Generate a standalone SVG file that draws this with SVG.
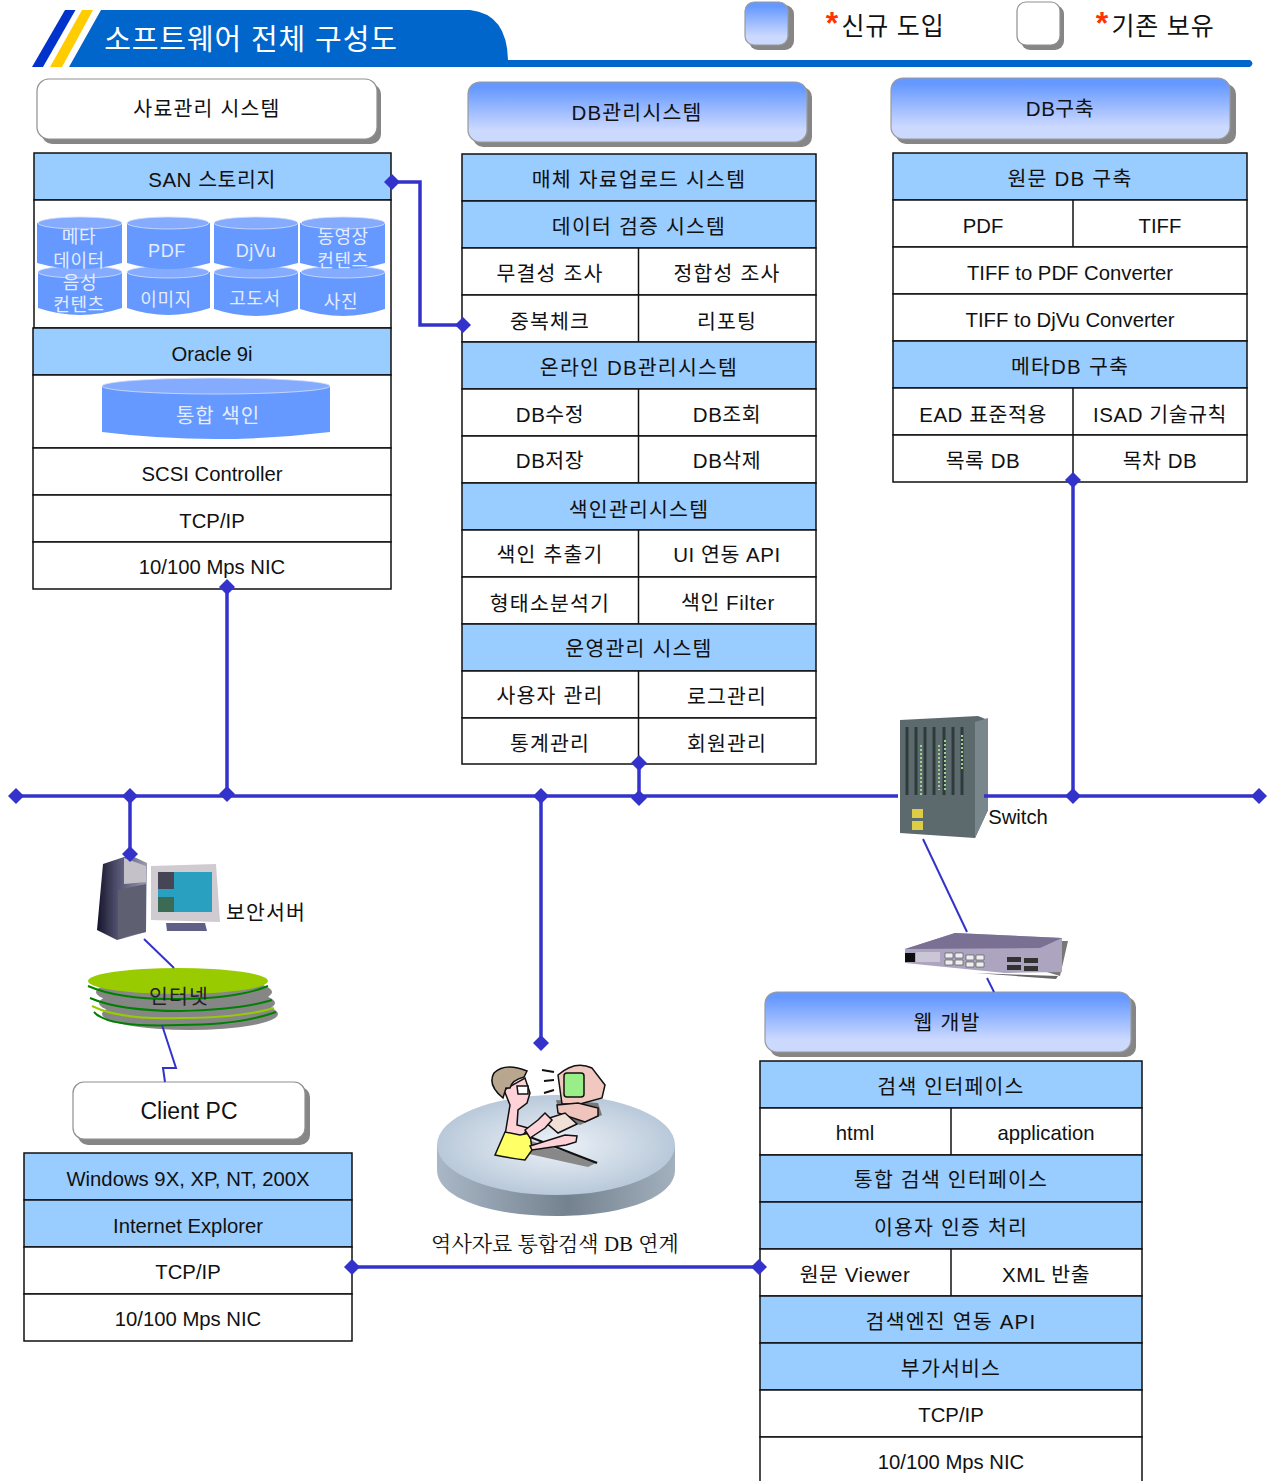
<svg xmlns="http://www.w3.org/2000/svg" width="1271" height="1481" viewBox="0 0 1271 1481">
<style>
text{font-family:"Liberation Sans","Noto Sans CJK KR",sans-serif;font-size:20.3px;fill:#111;text-anchor:middle}
text.k{font-size:20.5px;letter-spacing:1.2px;transform:translateY(1.2px)}
text.m{font-size:20.5px;letter-spacing:.55px;transform:translateY(.8px)}
.b{fill:#99ccff;stroke:#111;stroke-width:1.5}
.w{fill:#fff;stroke:#111;stroke-width:1.5}
.s{fill:#868686}
.nb{fill:url(#ng);stroke:#9a9a9a;stroke-width:1.2}
.ob{fill:#fff;stroke:#8f8f8f;stroke-width:1.2}
.c{fill:none;stroke:#3333cc;stroke-width:3.5}
.t{fill:none;stroke:#3333cc;stroke-width:2}
.d{fill:#3333cc}
.cb{fill:#6699ff}
.ct{fill:#85abff;stroke:#d5e0f5;stroke-width:.8}
text.cl{fill:#e4ecff;font-size:18px;letter-spacing:.6px}
.o{stroke:#111;stroke-width:1.5}
</style>
<defs>
<linearGradient id="ng" x1="0" y1="0" x2="0" y2="1"><stop offset="0.1" stop-color="#6699ff"/><stop offset="0.8" stop-color="#ccd9ff"/></linearGradient>
<linearGradient id="disc" x1="0" y1="0" x2="1" y2="0"><stop offset="0" stop-color="#a9b7c6"/><stop offset="0.55" stop-color="#748290"/><stop offset="1" stop-color="#a3b0bd"/></linearGradient>
<radialGradient id="disct"><stop offset="0" stop-color="#edf2f8"/><stop offset="1" stop-color="#b9c9da"/></radialGradient>
<linearGradient id="tower" x1="0" y1="0" x2="1" y2="0"><stop offset="0" stop-color="#15152c"/><stop offset="0.4" stop-color="#50506e"/><stop offset="1" stop-color="#9a9ab0"/></linearGradient>
<filter id="soft"><feGaussianBlur stdDeviation="0.6"/></filter>
<path id="dm" class="d" d="M0-8L8 0L0 8L-8 0Z"/>
</defs>

<g id="title">
<path d="M69 67L101 10H470Q507 14 508 60H1250Q1255 63.500 1250 67Z" fill="#0066cc"/>
<path d="M32 67L65 10H75.500L43 67Z" fill="#0033cc"/>
<path d="M50 67L82 10H93L62 67Z" fill="#ffcc00"/>
<text x="251" y="50" style="font-size:29px;letter-spacing:.9px;fill:#fff">소프트웨어 전체 구성도</text>
</g>

<g id="legend">
<rect class="s" x="749" y="5" width="45" height="45" rx="9"/>
<rect class="nb" x="745" y="2" width="43" height="43" rx="9"/>
<text x="832" y="34" style="font-size:32px;font-weight:bold;fill:#ff3300">*</text>
<text x="893" y="35" style="font-size:25px;letter-spacing:.8px">신규 도입</text>
<rect class="s" x="1021" y="5" width="43" height="45" rx="9"/>
<rect class="ob" x="1017" y="2" width="43" height="43" rx="9"/>
<text x="1102" y="34" style="font-size:32px;font-weight:bold;fill:#ff3300">*</text>
<text x="1163" y="35" style="font-size:25px;letter-spacing:.8px">기존 보유</text>
</g>

<g id="head-saryo">
<rect class="s" x="42" y="84" width="339" height="60" rx="10"/>
<rect class="ob" x="37" y="79" width="340" height="60" rx="12"/>
<text class="k" x="207" y="115">사료관리 시스템</text>
</g>
<g id="head-dbm">
<rect class="s" x="473" y="87" width="339" height="60" rx="10"/>
<rect class="nb" x="468" y="82" width="339" height="60" rx="12"/>
<text class="k" x="637" y="119">DB관리시스템</text>
</g>
<g id="head-dbb">
<rect class="s" x="896" y="84" width="340" height="60" rx="10"/>
<rect class="nb" x="891" y="78" width="339" height="61" rx="12"/>
<text class="m" x="1060" y="115">DB구축</text>
</g>

<g id="san-table">
<rect class="b" x="34" y="153" width="357" height="47"/><text class="m" x="212" y="186">SAN 스토리지</text>
<rect class="w" x="34" y="200" width="357" height="128"/>
<rect class="b" x="33" y="328" width="358" height="47"/><text x="212" y="361">Oracle 9i</text>
<rect class="w" x="33" y="375" width="358" height="73"/>
<rect class="w" x="33" y="448" width="358" height="47"/><text x="212" y="481">SCSI Controller</text>
<rect class="w" x="33" y="495" width="358" height="47"/><text x="212" y="528">TCP/IP</text>
<rect class="w" x="33" y="542" width="358" height="47"/><text x="212" y="574">10/100 Mps NIC</text>
</g>
<g id="storage">
<path class="cb" d="M38 272V308Q80 322 122 308V272Z"/><ellipse class="ct" cx="80" cy="272" rx="42" ry="6"/>
<path class="cb" d="M127 272V308Q168 322 210 308V272Z"/><ellipse class="ct" cx="168" cy="272" rx="41" ry="6"/>
<path class="cb" d="M214 272V309Q256 323 298 309V272Z"/><ellipse class="ct" cx="256" cy="272" rx="42" ry="6"/>
<path class="cb" d="M300 272V309Q343 323 385 309V272Z"/><ellipse class="ct" cx="343" cy="272" rx="42" ry="6"/>
<path class="cb" d="M37 223V263Q80 275 122 263V223Z"/><ellipse class="ct" cx="80" cy="223" rx="42" ry="6"/>
<path class="cb" d="M127 223V263Q168 275 210 263V223Z"/><ellipse class="ct" cx="168" cy="223" rx="41" ry="6"/>
<path class="cb" d="M214 223V263Q256 275 298 263V223Z"/><ellipse class="ct" cx="256" cy="223" rx="42" ry="6"/>
<path class="cb" d="M300 223V263Q343 275 385 263V223Z"/><ellipse class="ct" cx="343" cy="223" rx="42" ry="6"/>
<text class="cl" x="79" y="243">메타</text><text class="cl" x="79" y="267">데이터</text>
<text class="cl" x="167" y="257">PDF</text><text class="cl" x="256" y="257">DjVu</text>
<text class="cl" x="343" y="243">동영상</text><text class="cl" x="343" y="267">컨텐츠</text>
<text class="cl" x="80" y="289">음성</text><text class="cl" x="79" y="311">컨텐츠</text>
<text class="cl" x="166" y="306">이미지</text><text class="cl" x="255" y="305">고도서</text><text class="cl" x="341" y="308">사진</text>
<path class="cb" d="M102 386V432Q216 446 330 432V386Z"/><ellipse class="ct" cx="216" cy="386" rx="114" ry="8"/>
<text class="cl" x="218" y="423" style="font-size:20px;letter-spacing:1px">통합 색인</text>
</g>

<g id="dbm-table">
<rect class="b" x="462" y="154" width="354" height="47"/><text class="k" x="639" y="186">매체 자료업로드 시스템</text>
<rect class="b" x="462" y="201" width="354" height="47"/><text class="k" x="639" y="233">데이터 검증 시스템</text>
<rect class="w" x="462" y="248" width="354" height="47"/><rect class="w" x="462" y="295" width="354" height="47"/><path class="w" d="M638.500 248V342"/>
<text class="k" x="550" y="280">무결성 조사</text><text class="k" x="727" y="280">정합성 조사</text><text class="k" x="550" y="328">중복체크</text><text class="k" x="727" y="328">리포팅</text>
<rect class="b" x="462" y="342" width="354" height="47"/><text class="k" x="639" y="374">온라인 DB관리시스템</text>
<rect class="w" x="462" y="389" width="354" height="47"/><rect class="w" x="462" y="436" width="354" height="47"/><path class="w" d="M638.500 389V483"/>
<text class="m" x="550" y="421">DB수정</text><text class="m" x="727" y="421">DB조회</text><text class="m" x="550" y="467">DB저장</text><text class="m" x="727" y="467">DB삭제</text>
<rect class="b" x="462" y="483" width="354" height="47"/><text class="k" x="639" y="516">색인관리시스템</text>
<rect class="w" x="462" y="530" width="354" height="47"/><rect class="w" x="462" y="577" width="354" height="47"/><path class="w" d="M638.500 530V624"/>
<text class="k" x="550" y="561">색인 추출기</text><text class="m" x="727" y="561">UI 연동 API</text><text class="k" x="550" y="610">형태소분석기</text><text class="m" x="728" y="609">색인 Filter</text>
<rect class="b" x="462" y="624" width="354" height="47"/><text class="k" x="639" y="655">운영관리 시스템</text>
<rect class="w" x="462" y="671" width="354" height="47"/><rect class="w" x="462" y="718" width="354" height="46"/><path class="w" d="M638.500 671V764"/>
<text class="k" x="550" y="702">사용자 관리</text><text class="k" x="727" y="703">로그관리</text><text class="k" x="550" y="750">통계관리</text><text class="k" x="727" y="750">회원관리</text>
</g>

<g id="dbb-table">
<rect class="b" x="893" y="153" width="354" height="47"/><text class="k" x="1070" y="185">원문 DB 구축</text>
<rect class="w" x="893" y="200" width="354" height="47"/><path class="w" d="M1073 200V247"/>
<text x="983" y="233">PDF</text><text x="1160" y="233">TIFF</text>
<rect class="w" x="893" y="247" width="354" height="47"/><text x="1070" y="280">TIFF to PDF Converter</text>
<rect class="w" x="893" y="294" width="354" height="47"/><text x="1070" y="327">TIFF to DjVu Converter</text>
<rect class="b" x="893" y="341" width="354" height="47"/><text class="k" x="1070" y="373">메타DB 구축</text>
<rect class="w" x="893" y="388" width="354" height="47"/><rect class="w" x="893" y="435" width="354" height="47"/><path class="w" d="M1073 388V482"/>
<text class="m" x="983" y="421">EAD 표준적용</text><text class="m" x="1160" y="421">ISAD 기술규칙</text><text class="m" x="983" y="467">목록 DB</text><text class="m" x="1160" y="467">목차 DB</text>
</g>

<g id="security-server" filter="url(#soft)">
<path d="M97 930L103 864L130 855L147 863L146 932L117 940Z" fill="url(#tower)"/>
<path d="M118 890L146 884V932L118 938Z" fill="#5e5e72"/>
<path d="M124 858L146 866V882L124 884Z" fill="#c4c2c8"/>
<path d="M151 866L216 864L220 922L151 920Z" fill="#cfcbd0"/>
<rect x="158" y="872" width="54" height="40" fill="#2aa0c0"/>
<rect x="158" y="872" width="16" height="17" fill="#445"/>
<rect x="158" y="897" width="16" height="15" fill="#3b6b55"/>
<path d="M166 923H205L207 931H167Z" fill="#5f5f88"/>
</g>
<text id="security-label" class="k" x="266" y="919">보안서버</text>

<g id="internet">
<ellipse cx="190" cy="1014" rx="88" ry="16" fill="#868686"/>
<ellipse cx="187" cy="1003" rx="88" ry="16" fill="#868686"/>
<ellipse cx="184" cy="992" rx="88" ry="16" fill="#868686"/>
<path d="M94 1012Q108 1028 180 1025Q240 1025 276 1012" fill="none" stroke="#008000" stroke-width="2"/>
<path d="M92 1006Q120 1020 180 1018Q240 1018 274 1008" fill="none" stroke="#99cc00" stroke-width="2"/>
<path d="M90 998Q120 1011 180 1011Q240 1010 272 1000" fill="none" stroke="#008000" stroke-width="2"/>
<path d="M88 986Q120 1000 180 999Q240 998 268 986" fill="none" stroke="#008000" stroke-width="2"/>
<ellipse cx="178" cy="981" rx="90" ry="13" fill="#99cc00"/>
<text class="k" x="179" y="1003" style="fill:#222">인터넷</text>
</g>

<g id="client-head">
<rect class="s" x="78" y="1087" width="232" height="58" rx="10"/>
<rect class="ob" x="73" y="1082" width="232" height="57" rx="11"/>
<text x="189" y="1119" style="font-size:23px">Client PC</text>
</g>
<g id="client-table">
<rect class="b" x="24" y="1153" width="328" height="47"/><text x="188" y="1186">Windows 9X, XP, NT, 200X</text>
<rect class="b" x="24" y="1200" width="328" height="47"/><text x="188" y="1233">Internet Explorer</text>
<rect class="w" x="24" y="1247" width="328" height="47"/><text x="188" y="1279">TCP/IP</text>
<rect class="w" x="24" y="1294" width="328" height="47"/><text x="188" y="1326">10/100 Mps NIC</text>
</g>

<g id="db-link">
<path d="M437 1145V1170C437 1198 490 1216 556 1216C622 1216 675 1198 675 1170V1145Z" fill="url(#disc)"/>
<ellipse cx="556" cy="1145" rx="119" ry="50" fill="url(#disct)"/>
<path d="M528 1140L598 1162L588 1167L520 1152Z" fill="#888"/>
<path d="M530 1137L597 1163" stroke="#111" stroke-width="2"/>
<path d="M556 1100L598 1103L602 1115L580 1125L560 1117Z" fill="#777"/>
<path d="M558 1075Q575 1060 592 1068L605 1085L602 1098L580 1104L562 1104Z" fill="#f0c8c0" class="o"/>
<rect x="564" y="1073" width="20" height="24" rx="3" fill="#99ee88" class="o"/>
<path d="M557 1105L578 1103L598 1108V1116L585 1122L558 1113Z" fill="#eec4bc" class="o"/>
<path d="M505 1135L510 1105L504 1090L525 1078L530 1093L527 1103L518 1110L517 1125L528 1128L520 1140Z" fill="#ffd2d8" class="o"/>
<path d="M503 1098Q487 1085 494 1073Q505 1062 527 1071L524 1077Q512 1080 510 1088L506 1088Z" fill="#b8a68f" class="o"/>
<path d="M517 1086H528V1094H518Z" fill="#fff" class="o"/>
<path d="M495 1155L505 1132L520 1135L530 1133L532 1150L525 1160Q510 1158 495 1155Z" fill="#ffff66" class="o"/>
<path d="M543 1120L565 1113L577 1124L558 1133Z" fill="#f0e0d8" class="o"/>
<path d="M530 1146L565 1135L577 1136L576 1142L566 1145L532 1150Z" fill="#ffd2d8" class="o"/>
<path d="M525 1130L538 1120L545 1113L552 1120L545 1128L530 1138Z" fill="#ffd2d8" class="o"/>
<path d="M542 1070L554 1072M544 1081L554 1080M544 1093L554 1090" fill="none" stroke="#111" stroke-width="2"/>
<text x="555" y="1251" style="font-family:'Liberation Serif','Noto Serif CJK KR','Noto Sans CJK KR',serif;font-size:21px">역사자료 통합검색 DB 연계</text>
</g>

<g id="switch">
<g filter="url(#soft)">
<path d="M900 720L978 716L988 720V810L975 838L900 833Z" fill="#5b6a6e"/>
<path d="M975 722L988 718V810L975 838Z" fill="#79878c"/>
<path d="M907 727V795M916 727V795M925 727V795M934 727V795M944 727V795M953 727V795M962 727V795" stroke="#2f3a3c" stroke-width="3"/>
<path d="M921 745V795M939 745V790M945 740V790M962 735V770" stroke="#a0d090" stroke-width="2" stroke-dasharray="2 2"/>
<rect x="912" y="809" width="11" height="9" fill="#ddcc44"/><rect x="912" y="821" width="11" height="9" fill="#ddcc44"/>
</g>
<text x="1018" y="824">Switch</text>
</g>

<g id="router" filter="url(#soft)">
<path d="M1040 970L1062 941L1068 941L1060 976Z" fill="#777"/>
<path d="M975 973L1058 976L1056 979Z" fill="#666"/>
<path d="M905 949L955 933L1062 938V972L1005 973L905 963Z" fill="#ada5bf"/>
<path d="M955 933L1062 938L1040 948L905 949Z" fill="#7a6f94"/>
<rect x="905" y="953" width="10" height="9" fill="#111"/>
<rect x="916" y="952" width="24" height="10" fill="#cbc6d6"/>
<path d="M945 953h8v5h-8zM955 953h8v5h-8zM966 955h8v5h-8zM976 955h8v5h-8zM945 960h8v5h-8zM955 960h8v5h-8zM966 962h8v5h-8zM976 962h8v5h-8z" fill="#eee" stroke="#444" stroke-width=".6"/>
<path d="M1007 957h14v5h-14zM1024 958h14v5h-14zM1007 965h14v5h-14zM1024 966h14v5h-14z" fill="#333"/>
</g>

<g id="web-head">
<rect class="s" x="770" y="997" width="366" height="60" rx="10"/>
<rect class="nb" x="765" y="992" width="366" height="60" rx="12"/>
<text class="k" x="947" y="1029">웹 개발</text>
</g>
<g id="web-table">
<rect class="b" x="760" y="1061" width="382" height="47"/><text class="k" x="951" y="1093">검색 인터페이스</text>
<rect class="w" x="760" y="1108" width="382" height="47"/><path class="w" d="M951 1108V1155"/>
<text x="855" y="1140">html</text><text x="1046" y="1140">application</text>
<rect class="b" x="760" y="1155" width="382" height="47"/><text class="k" x="951" y="1186">통합 검색 인터페이스</text>
<rect class="b" x="760" y="1202" width="382" height="47"/><text class="k" x="951" y="1234">이용자 인증 처리</text>
<rect class="w" x="760" y="1249" width="382" height="47"/><path class="w" d="M951 1249V1296"/>
<text class="m" x="855" y="1281">원문 Viewer</text><text class="m" x="1046" y="1281">XML 반출</text>
<rect class="b" x="760" y="1296" width="382" height="47"/><text class="k" x="951" y="1328">검색엔진 연동 API</text>
<rect class="b" x="760" y="1343" width="382" height="47"/><text class="k" x="951" y="1375">부가서비스</text>
<rect class="w" x="760" y="1390" width="382" height="47"/><text x="951" y="1422">TCP/IP</text>
<rect class="w" x="760" y="1437" width="382" height="47"/><text x="951" y="1469">10/100 Mps NIC</text>
</g>

<g id="connectors">
<path class="c" d="M16 796H898M984 796H1259"/>
<path class="c" d="M392 182H420V325H463"/>
<path class="c" d="M227 588V796"/>
<path class="c" d="M130 796V854"/>
<path class="c" d="M541 796V1043"/>
<path class="c" d="M639 764V798"/>
<path class="c" d="M1073 480V796"/>
<path class="c" d="M352 1267H759"/>
<path class="t" d="M144 939L174 968"/>
<path class="t" d="M162 1025L176 1068H163L165 1082"/>
<path class="t" d="M923 839L967 932"/>
<path class="t" d="M987 978L994 992"/>
<use href="#dm" x="16" y="796"/><use href="#dm" x="130" y="796"/><use href="#dm" x="227" y="794"/><use href="#dm" x="541" y="796"/><use href="#dm" x="639" y="798"/><use href="#dm" x="1073" y="796"/><use href="#dm" x="1259" y="796"/>
<use href="#dm" x="392" y="182"/><use href="#dm" x="463" y="325"/><use href="#dm" x="227" y="587"/><use href="#dm" x="130" y="854"/><use href="#dm" x="541" y="1043"/><use href="#dm" x="639" y="763"/><use href="#dm" x="1073" y="480"/><use href="#dm" x="352" y="1267"/><use href="#dm" x="759" y="1267"/>
</g>
</svg>
